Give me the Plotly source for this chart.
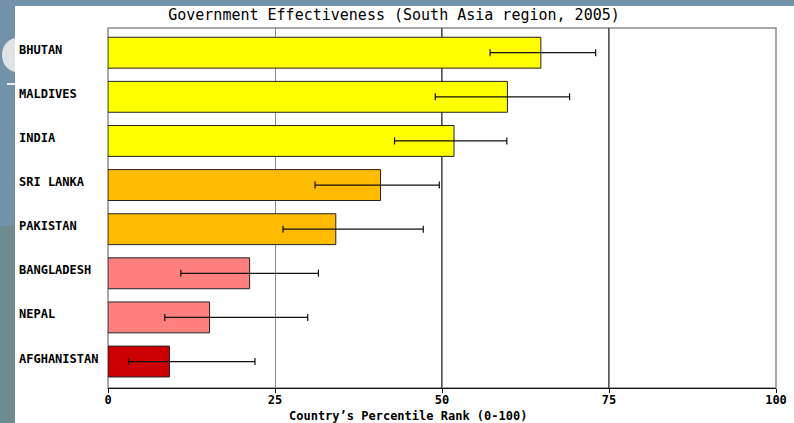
import plotly.graph_objects as go

countries = ["BHUTAN", "MALDIVES", "INDIA", "SRI LANKA", "PAKISTAN", "BANGLADESH", "NEPAL", "AFGHANISTAN"]
rank = [64.8, 59.8, 51.8, 40.8, 34.1, 21.2, 15.2, 9.2]
lower = [57.2, 49.0, 42.9, 31.0, 26.2, 10.9, 8.5, 3.1]
upper = [73.0, 69.1, 59.7, 49.6, 47.2, 31.5, 29.9, 22.0]
bar_colors = ["#FFFF00", "#FFFF00", "#FFFF00", "#FFBB00", "#FFBB00", "#FF7F7F", "#FF7F7F", "#CC0000"]
x_ticks = [0, 25, 50, 75, 100]
threshold_lines = [50, 75]

W, H = 794, 423
L, R, T, B = 108, 18, 28, 35
pw = W - L - R
ph = H - T - B

fig = go.Figure()
fig.add_trace(go.Bar(
    y=countries, x=rank, orientation="h",
    marker=dict(color=bar_colors, line=dict(color="#222222", width=1)),
    width=0.7,
    error_x=dict(type="data", symmetric=False,
                 array=[u - r for u, r in zip(upper, rank)],
                 arrayminus=[r - lo for r, lo in zip(rank, lower)],
                 color="#111111", thickness=1.2, width=3.5),
    hoverinfo="skip",
))

shapes = [
    # slide background decoration
    dict(type="rect", xref="paper", yref="paper", x0=-L / pw, x1=-(L - 15) / pw, y0=-B / ph, y1=0.45,
         fillcolor="#6f8b8f", line_width=0, layer="below"),
    dict(type="circle", xref="paper", yref="paper",
         x0=(2 - L) / pw, x1=(32 - L) / pw, y0=1 - (72 - T) / ph, y1=1 - (38 - T) / ph,
         fillcolor="#dfe3e6", line_width=0, layer="below"),
    dict(type="line", xref="paper", yref="paper", x0=(7 - L) / pw, x1=(15 - L) / pw,
         y0=1 - (84 - T) / ph, y1=1 - (84 - T) / ph,
         line=dict(color="#e8ecee", width=2), layer="below"),
    # white panel
    dict(type="rect", xref="paper", yref="paper", x0=-(L - 15) / pw, x1=(W - L) / pw,
         y0=-B / ph, y1=1 + (T - 6) / ph,
         fillcolor="white", line_width=0, layer="below"),
    # plot frame
    dict(type="rect", xref="paper", yref="paper", x0=0, x1=1, y0=0, y1=1,
         line=dict(color="#8a8a8a", width=1.5), layer="between"),
]
for v in threshold_lines:
    shapes.append(dict(type="line", xref="x", yref="paper", x0=v, x1=v, y0=0, y1=1,
                       line=dict(color="#000000", width=1.3), layer="between"))

annotations = [
    dict(xref="paper", yref="y", x=(17 - L) / pw, y=c, text=c, showarrow=False,
         xanchor="left", yanchor="middle", yshift=3,
         font=dict(family="DejaVu Sans Mono", size=12, color="black", weight="bold"))
    for c in countries
]
annotations.append(dict(xref="paper", yref="paper", x=(408 - L) / pw, y=-(415.5 - (H - B)) / ph,
                        text="Country’s Percentile Rank (0-100)", showarrow=False,
                        xanchor="center", yanchor="middle",
                        font=dict(family="DejaVu Sans Mono", size=12, color="black", weight="bold")))

fig.update_layout(
    width=W, height=H, autosize=False,
    margin=dict(l=L, r=R, t=T, b=B, pad=0, autoexpand=False),
    paper_bgcolor="#7292a9",
    plot_bgcolor="white",
    showlegend=False,
    title=dict(text="Government Effectiveness (South Asia region, 2005)",
               x=394 / W, xanchor="center", xref="container",
               y=1 - 15 / H, yanchor="middle", yref="container",
               font=dict(family="DejaVu Sans Mono", size=15, color="black")),
    xaxis=dict(range=[0, 100], tickvals=x_ticks, ticktext=[str(t) for t in x_ticks],
               showgrid=True, gridcolor="#8a8a8a", gridwidth=1.2,
               zeroline=False, showline=True, linecolor="#111111", linewidth=1.2,
               ticks="outside", ticklen=4, tickcolor="#111111",
               ticklabelstandoff=-4, automargin=False,
               tickfont=dict(family="DejaVu Sans Mono", size=12, color="black", weight="bold"),
               fixedrange=True),
    yaxis=dict(categoryorder="array", categoryarray=countries,
               range=[7.60, -0.56], showticklabels=False, showgrid=False, automargin=False,
               zeroline=False, showline=False, ticks="", fixedrange=True),
    shapes=shapes,
    annotations=annotations,
)

fig.write_html("out.html", config={"displayModeBar": False},
               post_script="document.body.style.margin='0';document.body.style.overflow='hidden';")
